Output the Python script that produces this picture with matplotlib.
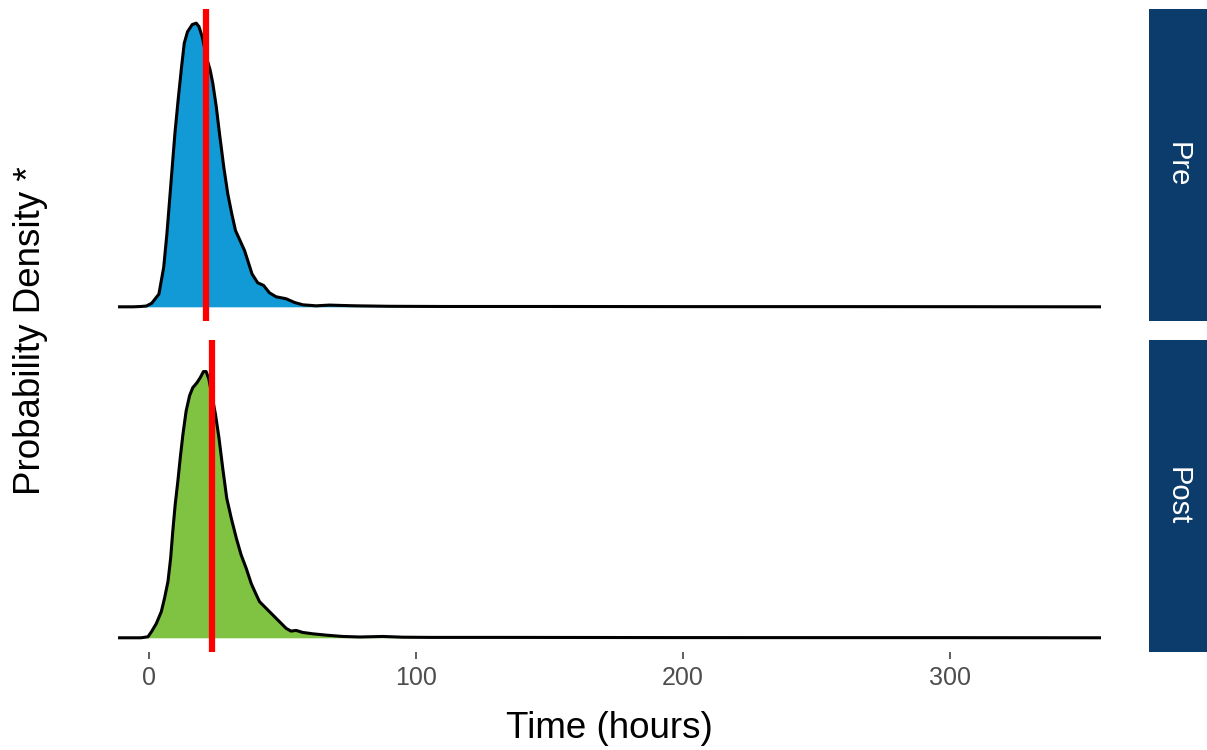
import matplotlib
matplotlib.use("Agg")
import matplotlib.pyplot as plt

plt.rcParams['font.family'] = ['Liberation Sans', 'DejaVu Sans']

# densites (temps en heures)
pre_x = [-11.6, -6.0, -3.0, -1.0, 1.0, 3.7, 5.5, 6.7, 7.7, 8.7, 9.7, 10.9, 12.2, 13.2,
         14.4, 16.2, 17.7, 18.7, 19.9, 21.8, 22.9, 23.9, 25.2, 26.4, 28.0, 29.5, 31.0,
         32.4, 34.1, 35.8, 37.0, 38.6, 40.7, 42.9, 45.1, 47.6, 51.4, 54.5, 57.6, 62.6,
         67.6, 72.5, 77.6, 90, 110, 150, 200, 260, 300, 356.6]
pre_dens = [0, 0, 0.00005, 0.00012, 0.00053, 0.0019, 0.0059, 0.0109, 0.0159, 0.0209,
            0.0259, 0.0309, 0.0359, 0.0394, 0.0411, 0.0422, 0.0424, 0.0419, 0.0404,
            0.0369, 0.0354, 0.0334, 0.0299, 0.0259, 0.0209, 0.0169, 0.0139, 0.0114,
            0.0099, 0.0084, 0.0069, 0.0049, 0.0036, 0.0032, 0.0021, 0.0015, 0.0012,
            0.00065, 0.0003, 0.00015, 0.00026, 0.0002, 0.00015, 0.00008, 0.00005,
            0.00005, 0.00003, 0.00003, 0.00002, 0]

post_x = [-11.6, -3.0, -0.4, 0.9, 2.7, 4.6, 5.8, 7.1, 8.1, 8.9, 9.8, 10.8, 11.7, 12.7,
          13.9, 15.2, 16.4, 17.9, 19.2, 20.4, 21.4, 22.4, 24.9, 26.2, 27.6, 29.1, 30.8,
          32.7, 34.5, 36.4, 38.3, 40.1, 41.4, 43.9, 46.4, 48.9, 51.4, 53.2, 55.1, 57.6,
          61.3, 66.3, 72.5, 79.0, 87.5, 95.0, 105, 130, 200, 300, 356.6]
post_dens = [0, 0, 0.00015, 0.0009, 0.0021, 0.0039, 0.0059, 0.0084, 0.0119, 0.0159,
             0.0199, 0.0234, 0.0269, 0.0304, 0.0339, 0.0362, 0.0374, 0.0381, 0.0389,
             0.0398, 0.0398, 0.0387, 0.0334, 0.0299, 0.0254, 0.0209, 0.0179, 0.0149,
             0.0124, 0.0104, 0.0081, 0.0065, 0.0054, 0.0044, 0.0034, 0.0024, 0.0014,
             0.0010, 0.0011, 0.0008, 0.0006, 0.0004, 0.0002, 0.00012, 0.0002, 0.00009,
             0.00006, 0.00006, 0.00003, 0.00002, 0]

groupes = ["Pre", "Post"]
moyennes = [21.2, 23.6]
couleurs = ["#119AD6", "#80C241"]
x_ticks = [0, 100, 200, 300]

fig = plt.figure(figsize=(12.07, 7.5), dpi=100)

ymax = max(max(pre_dens), max(post_dens))
donnees = [(pre_x, pre_dens), (post_x, post_dens)]
positions = [(0.572, 0.416), (0.1307, 0.416)]

for i in range(2):
    bas, haut = positions[i]
    ax = fig.add_axes([0.0978, bas, 0.8144, haut])
    xs, ds = donnees[i]
    ax.fill_between(xs, 0, ds, color=couleurs[i], lw=0)
    ax.plot(xs, ds, color="black", lw=2.2, solid_capstyle="butt")
    ax.axvline(moyennes[i], color="red", lw=4.5, zorder=5)
    ax.set_xlim(-11.6, 356.6)
    ax.set_ylim(-0.05 * ymax, 1.05 * ymax)
    ax.set_yticks([])
    for s in ax.spines.values():
        s.set_visible(False)
    if i == 0:
        ax.set_xticks([])
    else:
        ax.set_xticks(x_ticks)
        ax.tick_params(axis="x", length=4.8, width=1.1, color="#333333",
                       labelsize=18, labelcolor="#4D4D4D", pad=5)

    # bandeau de facette a droite
    st = fig.add_axes([0.952, bas, 0.048, haut])
    st.set_facecolor("#0B3C6B")
    st.set_xticks([])
    st.set_yticks([])
    for s in st.spines.values():
        s.set_visible(False)
    st.text(0.5, 0.5, groupes[i], color="white", fontsize=21, rotation=-90,
            ha="center", va="center", transform=st.transAxes)

fig.text(0.5052, 0.029, "Time (hours)", fontsize=26.5, ha="center", va="center")
fig.text(0.0249, 0.559, "Probability Density *", fontsize=26.5, rotation=90,
         ha="center", va="center")

fig.savefig("out.png", dpi=100)
